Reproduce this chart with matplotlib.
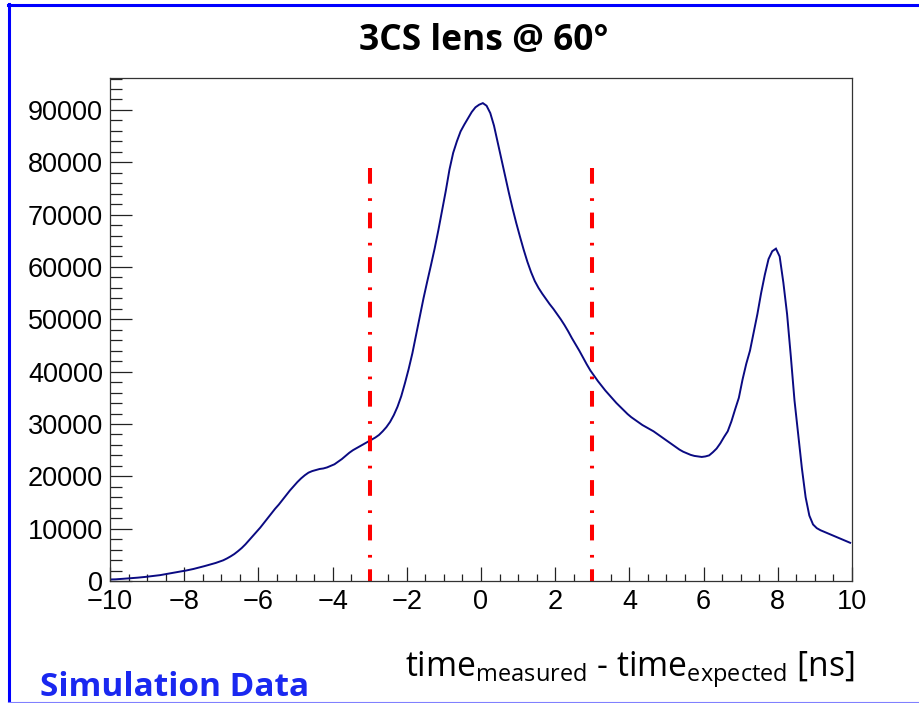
import numpy as np
import matplotlib
matplotlib.use("Agg")
import matplotlib.pyplot as plt
from matplotlib.lines import Line2D
from matplotlib.ticker import MultipleLocator, FuncFormatter

# ---- data -------------------------------------------------------------
bin_edges_ns = np.round(np.arange(-10.0, 10.0001, 0.1), 2)  # 200 bins of 0.1 ns

counts = [
    # -10 .. -9
    300, 320, 380, 420, 470, 520, 580, 640, 700, 780,
    # -9 .. -8
    860, 930, 1020, 1120, 1250, 1380, 1500, 1620, 1760, 1880,
    # -8 .. -7
    2000, 2150, 2300, 2480, 2650, 2850, 3050, 3250, 3450, 3700,
    # -7 .. -6
    3950, 4300, 4700, 5150, 5700, 6300, 7000, 7800, 8600, 9400,
    # -6 .. -5
    10200, 11100, 12000, 12900, 13800, 14600, 15500, 16400, 17300, 18100,
    # -5 .. -4
    18900, 19600, 20200, 20700, 21000, 21200, 21400, 21500, 21700, 22000,
    # -4 .. -3
    22300, 22800, 23300, 23900, 24500, 25000, 25400, 25800, 26200, 26600,
    # -3 .. -2
    27000, 27400, 27900, 28600, 29400, 30400, 31700, 33300, 35300, 37800,
    # -2 .. -1
    40500, 43500, 47000, 50500, 54000, 57200, 60300, 63500, 67000, 70700,
    # -1 .. 0
    74500, 78600, 81800, 84000, 85900, 87200, 88400, 89600, 90500, 91000,
    # 0 .. 1
    91300, 90800, 89400, 87000, 83800, 80600, 77400, 74200, 71200, 68400,
    # 1 .. 2
    65800, 63300, 61000, 59000, 57300, 56000, 54900, 53900, 52900, 52000,
    # 2 .. 3
    51000, 50000, 48900, 47700, 46400, 45200, 44000, 42700, 41400, 40200,
    # 3 .. 4
    39200, 38200, 37300, 36400, 35600, 34800, 34000, 33300, 32600, 31900,
    # 4 .. 5
    31300, 30800, 30300, 29800, 29400, 29000, 28600, 28100, 27600, 27100,
    # 5 .. 6
    26600, 26100, 25600, 25100, 24700, 24400, 24100, 23900, 23800, 23700,
    # 6 .. 7
    23800, 24000, 24600, 25300, 26300, 27500, 28600, 30500, 32800, 35000,
    # 7 .. 8
    38500, 41500, 44000, 47500, 51000, 55000, 58500, 61500, 63000, 63500,
    # 8 .. 9
    62000, 57000, 51000, 43000, 34500, 28000, 21500, 16000, 12500, 10800,
    # 9 .. 10
    10100, 9700, 9400, 9100, 8800, 8500, 8200, 7900, 7600, 7300,
]

cut_positions_ns = [-3.0, 3.0]
cut_line_top = 79000

title_text = "3CS lens @ 60°"
xlabel_text = r"time$_{\mathrm{measured}}$ - time$_{\mathrm{expected}}$ [ns]"
corner_text = "Simulation Data"

x_range = (-10, 10)
y_range = (0, 96100)

# ---- figure -------------------------------------------------------------
plt.rcParams["mathtext.fontset"] = "custom"
plt.rcParams["mathtext.rm"] = "Open Sans"
plt.rcParams["mathtext.it"] = "Open Sans:italic"
plt.rcParams["mathtext.bf"] = "Open Sans:bold"

W, H = 920, 703
fig = plt.figure(figsize=(W / 100, H / 100), dpi=100)
fig.patch.set_facecolor("white")

ax = fig.add_axes([110 / W, 1 - 581 / H, (852 - 110) / W, (581 - 78) / H])

edges = np.asarray(bin_edges_ns)
centers = 0.5 * (edges[:-1] + edges[1:])
ax.plot(centers, counts, color="#0a0a82", lw=1.4, solid_joinstyle="miter")

for xc in cut_positions_ns:
    ax.plot([xc, xc], [cut_line_top, 0], color="#ff0000", lw=2.9,
            linestyle=(0, (3.9, 3.6, 0.67, 2.9)), dash_capstyle="butt")

ax.set_xlim(*x_range)
ax.set_ylim(*y_range)

ax.xaxis.set_major_locator(MultipleLocator(2))
ax.xaxis.set_minor_locator(MultipleLocator(0.5))
ax.yaxis.set_major_locator(MultipleLocator(10000))
ax.yaxis.set_minor_locator(MultipleLocator(2000))

ax.tick_params(axis="both", which="both", direction="in", top=False, right=False,
               width=0.9, color="#222222")
ax.tick_params(axis="x", which="major", length=10, pad=6)
ax.tick_params(axis="x", which="minor", length=5)
ax.tick_params(axis="y", which="major", length=16, pad=5)
ax.tick_params(axis="y", which="minor", length=8.6)
ax.xaxis.set_major_formatter(FuncFormatter(
    lambda v, p: f"{int(round(v))}".replace("-", "\u2212")))
ax.yaxis.set_major_formatter(FuncFormatter(lambda v, p: f"{int(round(v))}"))
for lbl in ax.get_xticklabels() + ax.get_yticklabels():
    lbl.set_fontfamily("Liberation Sans")
    lbl.set_fontsize(19.5)

for sp in ax.spines.values():
    sp.set_linewidth(0.9)
    sp.set_color("#333333")

# title
fig.text(483.5 / W, 1 - 50 / H, title_text, ha="center", va="baseline",
         fontsize=25.5, fontweight="bold", family="Open Sans", color="black")

# x label
fig.text(630 / W, 1 - 677 / H, xlabel_text, ha="center", va="baseline",
         fontsize=24.2, family="Open Sans", color="black")

# corner text
fig.text(40 / W, 1 - 696 / H, corner_text, ha="left", va="baseline",
         fontsize=24, fontweight="bold", family="Open Sans", color="#1a28f0")

# blue slide borders
fig.add_artist(Line2D([9.5 / W, 9.5 / W], [0, 1 - 4 / H],
                      transform=fig.transFigure, color="#0000ff", lw=2.2))
fig.add_artist(Line2D([8 / W, 1], [1 - 5 / H, 1 - 5 / H],
                      transform=fig.transFigure, color="#0000ff", lw=2.2))
fig.add_artist(Line2D([8 / W, 1], [1 - 701.8 / H, 1 - 701.8 / H],
                      transform=fig.transFigure, color="#8080ff", lw=0.8))

fig.savefig("out.png", dpi=100)
